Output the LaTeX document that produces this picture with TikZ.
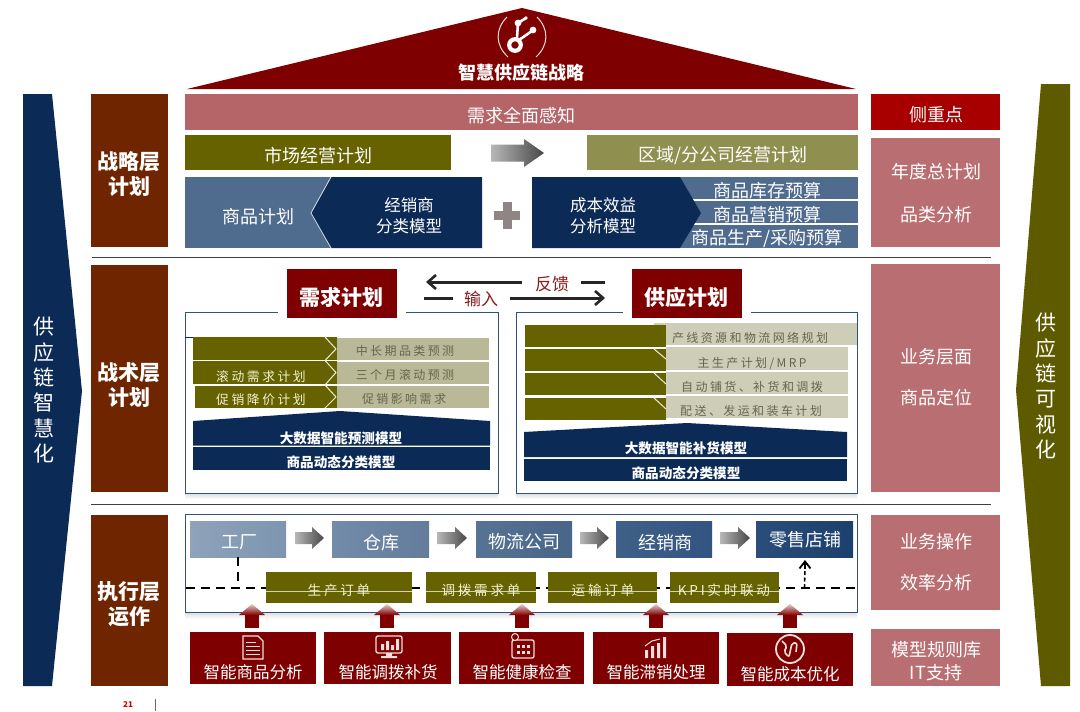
\documentclass[tikz,border=0pt]{standalone}
\usepackage{fontspec}
\setmainfont{Noto Sans CJK SC}
\newfontfamily\spc[LetterSpace=20]{Noto Sans CJK SC}
\usetikzlibrary{arrows.meta,shadings,calc}
\definecolor{droof}{HTML}{7F0000}
\definecolor{rosea}{HTML}{B56468}
\definecolor{roseb}{HTML}{B96E71}
\definecolor{olivea}{HTML}{666200}
\definecolor{oliveb}{HTML}{8F9050}
\definecolor{olivec}{HTML}{5E5A00}
\definecolor{navya}{HTML}{0C2A56}
\definecolor{bluea}{HTML}{4F6B8E}
\definecolor{brown}{HTML}{6E2500}
\definecolor{crim}{HTML}{A80000}
\definecolor{khaki}{HTML}{B9B897}
\definecolor{khakib}{HTML}{CECDB8}
\definecolor{khtxt}{HTML}{66664E}
\definecolor{cream}{HTML}{F1F0D2}
\definecolor{pbor}{HTML}{2F5282}
\definecolor{pinkw}{HTML}{F3DEDE}
\definecolor{inred}{HTML}{8A1C1C}
\definecolor{plusg}{HTML}{8F8585}
\tikzset{
  bx/.style={inner sep=0pt,outer sep=0pt,draw=none},
  txt/.style={inner sep=0pt,outer sep=0pt,text=white,align=center,yshift=-1.2pt},
  fa/.style={font=\fontsize{18}{22}\selectfont},
  fb/.style={font=\fontsize{16.5}{21}\selectfont},
  fh/.style={font=\fontsize{21}{25}\selectfont\bfseries},
  fm/.style={font=\fontsize{13.6}{16}\selectfont\bfseries},
  fv/.style={font=\fontsize{21}{25.4}\selectfont},
  fk/.style={font=\fontsize{12}{14}\selectfont\spc,text=khtxt},
  fo/.style={font=\fontsize{12.8}{14}\selectfont\spc,text=cream},
  fq/.style={font=\fontsize{13.6}{14}\selectfont\spc,text=cream},
  pbord/.style={draw=pbor,line width=1pt},
  dashline/.style={draw=black,line width=2pt,dash pattern=on 9pt off 6pt},
  feedback/.style={draw=black!85,line width=3pt},
  feedtip/.style={-{Straight Barb[length=8pt,width=14pt,line width=2.6pt]}},
  icon/.style={draw=pinkw,line width=1.4pt},
  iconf/.style={fill=pinkw},
  sep/.style={draw=black!75,line width=.9pt},
}
% name x0 y0 x1 y1 style
\newcommand{\bxx}[6]{%
  \pgfmathsetmacro\bxW{#4-#2}\pgfmathsetmacro\bxH{#5-#3}%
  \node[bx,#6,minimum width=\bxW pt,minimum height=\bxH pt,anchor=north west] (#1) at (#2,#3) {};}
% name x y style text
\newcommand{\lbl}[5]{\node[txt,#4] (#1) at (#2,#3) {#5};}
% x0 x1 ymid halfshaft halfhead headstart
\newcommand{\grarrow}[6]{%
  \shade[left color=black!28,right color=black!72]
    (#1,#3-#4) -- (#6,#3-#4) -- (#6,#3-#5) -- (#2,#3) -- (#6,#3+#5) -- (#6,#3+#4) -- (#1,#3+#4) -- cycle;}
% xcentre : red up arrow
\newcommand{\redup}[1]{%
  \shade[top color=droof!20,bottom color=droof]
    (#1,604) -- (#1+13,615) -- (#1-13,615) -- cycle;
  \fill[droof] (#1-7,615) rectangle (#1+7,628);}
\begin{document}
\begin{tikzpicture}[x=1pt,y=-1pt]
\useasboundingbox (0,0) rectangle (1080,712);
\fill[white] (0,0) rectangle (1080,712);

%% roof
\coordinate (ra) at (522,8); \coordinate (rb) at (187,89); \coordinate (rc) at (856,89);
\fill[droof] (ra) -- (rb) -- (rc) -- cycle;
\draw[pinkw,line width=1pt] (507,17) .. controls (495,29) and (495,45) .. (508,57);
\draw[pinkw,line width=1pt] (537,17) .. controls (549,29) and (549,45) .. (536,57);
\draw[white,line width=4.2pt] (515,45) circle[radius=5.8];
\draw[white,line width=2.6pt] (517,38) -- (518,23) (519,40) -- (532,31) (518,23) -- (526,18);
\fill[white] (518,23) circle[radius=3.4] (533,30) circle[radius=3.4] (526,18) circle[radius=1.8];
\lbl{troof}{521}{71}{font=\fontsize{18}{20}\selectfont\bfseries}{智慧供应链战略}

%% left big arrow
\fill[navya] (23,94) -- (52,94) -- (82,391) -- (52,686) -- (23,686) -- cycle;
\lbl{tleft}{44}{389}{fv}{供\\应\\链\\智\\慧\\化}
%% right big arrow
\fill[olivec] (1041,84) -- (1070,84) -- (1070,686) -- (1041,686) -- (1016,390) -- cycle;
\lbl{tright}{1046}{385}{fv}{供\\应\\链\\可\\视\\化}

%% layer boxes
\bxx{l1}{91}{94}{168}{247}{fill=brown}
\bxx{l2}{91}{265}{168}{492}{fill=brown}
\bxx{l3}{91}{515}{168}{686}{fill=brown}
\lbl{tl1}{129}{173}{fh}{战略层\\计划}
\lbl{tl2}{129}{384}{fh}{战术层\\计划}
\lbl{tl3}{129}{603}{fh}{执行层\\运作}

%% separators
\coordinate (s1a) at (92,257); \coordinate (s1b) at (991,257);
\coordinate (s2a) at (91,504); \coordinate (s2b) at (991,504);
\draw[sep] (s1a) -- (s1b);
\draw[sep] (s2a) -- (s2b);

%% right column
\bxx{r0}{871}{94}{1000}{130}{fill=crim}
\bxx{r1}{871}{138}{1000}{247}{fill=roseb}
\bxx{r2}{871}{264}{1000}{492}{fill=roseb}
\bxx{r3}{871}{515}{1000}{610}{fill=roseb}
\bxx{r4}{871}{629}{1000}{686}{fill=roseb}
\lbl{tr0}{936}{113}{fa}{侧重点}
\lbl{tr1a}{936}{170}{fa}{年度总计划}
\lbl{tr1b}{936}{213}{fa}{品类分析}
\lbl{tr2a}{936}{356}{fa}{业务层面}
\lbl{tr2b}{936}{396}{fa}{商品定位}
\lbl{tr3a}{936}{540}{fa}{业务操作}
\lbl{tr3b}{936}{581}{fa}{效率分析}
\lbl{tr4a}{936}{648}{fa}{模型规则库}
\lbl{tr4b}{936}{671}{fa}{IT支持}

%% strategic layer
\bxx{dem}{185}{94}{858}{130}{fill=rosea}
\lbl{tdem}{521}{114}{fa}{需求全面感知}
\bxx{mkt}{185}{135}{451}{170}{fill=olivea}
\lbl{tmkt}{318}{154}{fa}{市场经营计划}
\bxx{reg}{587}{135}{858}{170}{fill=oliveb}
\lbl{treg}{723}{154}{fa}{区域/分公司经营计划}
\grarrow{491}{544}{153}{8.5}{14}{524}
\bxx{prod}{185}{177}{335}{248}{fill=bluea}
\fill[navya] (311,213) -- (331,177) -- (482,177) -- (482,248) -- (331,248) -- cycle;
\draw[white!80!bluea,line width=.8pt] (331,177) -- (311,213) -- (331,248);
\lbl{tprod}{258}{215}{fa}{商品计划}
\lbl{tdist}{409}{215}{fb}{经销商\\分类模型}
\fill[plusg] (503,202) rectangle (512,229);
\fill[plusg] (494,211) rectangle (520,220);
\bxx{bud1}{680}{177}{858}{199}{fill=bluea}
\bxx{bud2}{680}{201}{858}{223}{fill=bluea}
\bxx{bud3}{680}{225}{858}{248}{fill=bluea}
\fill[navya] (532,177) -- (680,177) -- (701,213) -- (680,248) -- (532,248) -- cycle;
\lbl{tcost}{603}{215}{fb}{成本效益\\分析模型}
\lbl{tb1}{767}{189}{fa}{商品库存预算}
\lbl{tb2}{767}{213}{fa}{商品营销预算}
\lbl{tb3}{767}{237}{fa}{商品生产/采购预算}

%% tactical layer: panels
\shade[top color=black!14,bottom color=white] (185,493) rectangle (498,499);
\shade[top color=black!14,bottom color=white] (516,493) rectangle (857,499);
\bxx{pl}{185}{312}{498}{493}{fill=white}
\bxx{pr}{516}{312}{857}{493}{fill=white}
\draw[pbord] (278,312) -- (pl.north west) -- (pl.south west) -- (pl.south east) -- (pl.north east) -- (406,312);
\draw[pbord] (623,312) -- (pr.north west) -- (pr.south west) -- (pr.south east) -- (pr.north east) -- (751,312);
\bxx{dp}{287}{269}{397}{318}{fill=droof}
\bxx{sp}{632}{269}{742}{318}{fill=droof}
\lbl{tdp}{341}{296}{fh}{需求计划}
\lbl{tsp}{686}{296}{fh}{供应计划}

%% feedback / input
\coordinate (fa) at (522,282); \coordinate (fb) at (426,282);
\coordinate (fc) at (581,282); \coordinate (fd) at (605,282);
\coordinate (ia) at (424,298); \coordinate (ib) at (453,298);
\coordinate (ic) at (510,298); \coordinate (id) at (605,298);
\draw[feedback,feedtip] (fa) -- (fb);
\draw[feedback] (fc) -- (fd);
\draw[feedback] (ia) -- (ib);
\draw[feedback,feedtip] (ic) -- (id);
\lbl{tfb}{552}{283}{font=\fontsize{17}{20}\selectfont,text=inred}{反馈}
\lbl{tin}{481}{298}{font=\fontsize{17}{20}\selectfont,text=inred}{输入}

%% left panel rows
\coordinate (tk) at (193,337);
\draw[navya,line width=1pt] (pl.north west |- tk) -- (tk);
\bxx{la}{193}{337}{337}{360}{fill=olivea}
\bxx{lb}{193}{361}{337}{384}{fill=olivea}
\bxx{lc}{195}{386}{337}{408}{fill=olivea}
\bxx{ka}{337}{338}{489}{359.5}{fill=khaki}
\bxx{kb}{337}{362}{489}{383.5}{fill=khaki}
\bxx{kc}{337}{386}{489}{408}{fill=khaki}
\draw[white!70!khaki,line width=1pt] (325,337) -- (336,349) -- (325,360.5) -- (336,372.5) -- (325,385) -- (336,397) -- (325,408);
\lbl{tkb0}{405}{350}{fk}{中长期品类预测}
\lbl{tkb1}{405}{374}{fk}{三个月滚动预测}
\lbl{tkb2}{404}{398}{fk}{促销影响需求}
\lbl{tlb1}{261}{375}{fo}{滚动需求计划}
\lbl{tlb2}{261}{398}{fo}{促销降价计划}
\fill[navya] (193,421) -- (340,411) -- (490,421) -- (490,445.5) -- (193,445.5) -- cycle;
\bxx{lm2}{193}{447}{490}{470}{fill=navya}
\lbl{tlm1}{341}{437}{fm}{大数据智能预测模型}
\lbl{tlm2}{341}{461}{fm}{商品动态分类模型}

%% right panel rows
\bxx{kr1}{654}{323}{857}{345}{fill=khakib}
\bxx{kr2}{666}{347}{848}{370}{fill=khakib}
\bxx{kr3}{666}{372}{848}{394}{fill=khakib}
\bxx{kr4}{666}{396}{848}{418}{fill=khakib}
\bxx{ra1}{525}{325}{666}{347}{fill=olivea}
\bxx{ra2}{525}{349}{666}{371}{fill=olivea}
\bxx{ra3}{525}{373}{666}{395}{fill=olivea}
\bxx{ra4}{525}{398}{666}{420}{fill=olivea}
\draw[white!70!khaki,line width=1pt] (654,349) -- (666,359);
\draw[white!70!khaki,line width=1pt] (654,373) -- (666,384);
\draw[white!70!khaki,line width=1pt] (654,398) -- (666,409);
\lbl{tkr1}{750}{337}{fk}{产线资源和物流网络规划}
\lbl{tkr2}{752}{362}{fk}{主生产计划/MRP}
\lbl{tkr3}{752}{386}{fk}{自动铺货、补货和调拨}
\lbl{tkr4}{751}{410}{fk}{配送、发运和装车计划}
\fill[navya] (524,432) -- (687,423) -- (847,432) -- (847,457) -- (524,457) -- cycle;
\bxx{rm2}{524}{458.5}{847}{481}{fill=navya}
\lbl{trm1}{686}{447}{fm}{大数据智能补货模型}
\lbl{trm2}{686}{472}{fm}{商品动态分类模型}

%% operations panel
\shade[top color=black!14,bottom color=white] (185,612) rectangle (857,619);
\bxx{po}{185}{514}{857}{612}{fill=white,draw=pbor,line width=1pt}
\definecolor{faca}{HTML}{8EA3BA}\definecolor{facb}{HTML}{7D95B0}
\definecolor{wha}{HTML}{728BA8}\definecolor{whb}{HTML}{637C9B}
\definecolor{lga}{HTML}{577394}\definecolor{lgb}{HTML}{48658A}
\definecolor{dla}{HTML}{3F6088}\definecolor{dlb}{HTML}{325480}
\definecolor{rta}{HTML}{2A4D79}\definecolor{rtb}{HTML}{1C406D}
\bxx{fac}{190}{521}{286}{557}{left color=faca,right color=facb}
\bxx{wh}{332}{521}{429}{557}{left color=wha,right color=whb}
\bxx{lg}{476}{521}{572}{557}{left color=lga,right color=lgb}
\bxx{dl}{616}{521}{712}{557}{left color=dla,right color=dlb}
\bxx{rt}{756}{521}{853}{557}{left color=rta,right color=rtb}
\lbl{tfac}{239}{541}{fa}{工厂}
\lbl{twh}{381}{541}{fa}{仓库}
\lbl{tlg}{524}{540}{fa}{物流公司}
\lbl{tdl}{665}{541}{fa}{经销商}
\lbl{trt}{805}{539}{fa}{零售店铺}
\grarrow{295}{324}{538}{6}{11}{312}
\grarrow{437}{467}{538}{6}{11}{455}
\grarrow{580}{609}{538}{6}{11}{597}
\grarrow{720}{750}{538}{6}{11}{738}

%% dashed
\coordinate (dL) at (186,588); \coordinate (dR) at (857,588);
\draw[dashline] (dL) -- (dR);
\draw[dashline] (fac.south) -- (fac.south |- dL);
\draw[black,line width=1.6pt,dash pattern=on 4pt off 2.5pt] (rt.south |- dL) -- (805,566);
\draw[black,line width=1.8pt,-{Straight Barb[length=7pt,width=11pt,line width=1.8pt]}] (805,569) -- (805,560);

\bxx{o1}{266}{572}{412}{603}{fill=olivea}
\bxx{o2}{426}{572}{536}{603}{fill=olivea}
\bxx{o3}{548}{572}{657}{603}{fill=olivea}
\bxx{o4}{670}{572}{779}{603}{fill=olivea}
\foreach \n in {o1,o2,o3,o4}{\draw[cream!80!olivea,line width=.7pt] (\n.west |- 0,591) -- (\n.east |- 0,591);}
\lbl{to1}{339}{589}{fq}{生产订单}
\lbl{to2}{481}{589}{fq}{调拨需求单}
\lbl{to3}{603}{589}{fq}{运输订单}
\lbl{to4}{724}{589}{fq}{KPI实时联动}

%% red arrows
\redup{252}\redup{387}\redup{522}\redup{656}\redup{790}

%% smart tiles
\bxx{s1}{190}{631.5}{316}{684}{fill=droof}
\bxx{s2}{324}{631.5}{451}{684}{fill=droof}
\bxx{s3}{459}{631.5}{584}{684}{fill=droof}
\bxx{s4}{593}{631.5}{719}{684}{fill=droof}
\bxx{s5}{727}{633}{853}{686}{fill=droof}
\lbl{ts1}{253}{671}{fb}{智能商品分析}
\lbl{ts2}{388}{671}{fb}{智能调拨补货}
\lbl{ts3}{522}{671}{fb}{智能健康检查}
\lbl{ts4}{656}{671}{fb}{智能滞销处理}
\lbl{ts5}{790}{673}{fb}{智能成本优化}

%% icons
\draw[icon] (243,636) -- (258,636) -- (263,641) -- (263,659) -- (243,659) -- cycle;
\draw[icon,line width=1pt] (246,642) -- (256,642) (246,646) -- (260,646) (246,650) -- (260,650) (246,654) -- (260,654);
\draw[icon,rounded corners=2pt] (376,636) rectangle (402,653);
\fill[iconf] (381,644) rectangle (384,650) (386,641) rectangle (389,650) (391,645) rectangle (394,650) (396,639) rectangle (399,650);
\fill[iconf] (386,653) rectangle (392,656) (381,656) rectangle (397,658);
\draw[icon,rounded corners=2pt] (512,640) rectangle (534,658);
\draw[icon,fill=droof,line width=1pt] (515,637) circle[radius=3.5];
\foreach \xx in {517,522,527}{\foreach \yy in {645,651}{\fill[iconf] (\xx,\yy) rectangle (\xx+3,\yy+3);}}
\fill[iconf] (645,650) rectangle (648,658) (651,646) rectangle (654,658) (657,643) rectangle (660,658) (663,637) rectangle (666,658);
\draw[icon,line width=1pt] (645,646) -- (652,641) -- (660,639);
\draw[icon,line width=1.8pt] (790,649) circle[radius=14];
\draw[icon,line width=1.6pt,rounded corners=2pt] (782,641) -- (787,646) -- (784,652) -- (789,657) -- (792,643) -- (797,643) -- (796,652);

%% footer
\node[inner sep=0pt,text=red!80!black,font=\rmfamily\fontsize{8}{9}\selectfont\bfseries] (pg) at (128,705) {21};
\coordinate (va) at (155,699); \coordinate (vb) at (155,711);
\draw[black!60,line width=.8pt] (va) -- (vb);
\end{tikzpicture}
\end{document}
